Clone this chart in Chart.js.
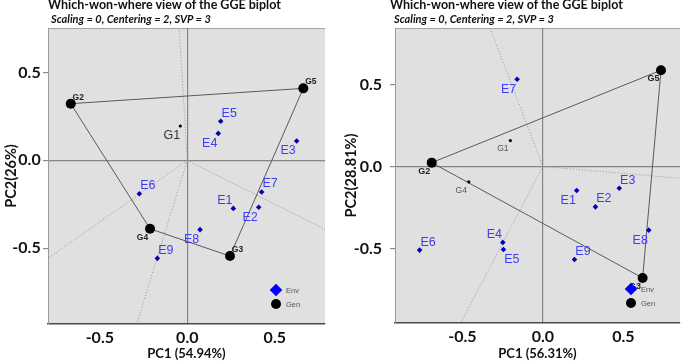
<!DOCTYPE html>
<html><head><meta charset="utf-8">
<script src="https://cdn.jsdelivr.net/npm/chart.js@4.4.1/dist/chart.umd.min.js"></script>
<style>
html,body{margin:0;padding:0;background:#fff;width:685px;height:363px;overflow:hidden;position:relative}
.box{position:absolute;top:0;height:363px}
.t1{position:absolute;top:-3px;font:bold 12.5px Lato,sans-serif;color:#111;white-space:nowrap}
.t2{position:absolute;top:12px;font:italic bold 11px Lato,sans-serif;color:#111;white-space:nowrap}
</style></head><body>
<div class="box" style="left:0;width:340px"><canvas id="c1" width="340" height="363"></canvas></div>
<div class="box" style="left:340px;width:345px"><canvas id="c2" width="345" height="363"></canvas></div>
<div class="t1" style="left:48px">Which-won-where view of the GGE biplot</div>
<div class="t2" style="left:51px">Scaling = 0, Centering = 2, SVP = 3</div>
<div class="t1" style="left:390px">Which-won-where view of the GGE biplot</div>
<div class="t2" style="left:394px">Scaling = 0, Centering = 2, SVP = 3</div>
<script>
// ---------- DATA ----------
const tickValues = [-0.5, 0, 0.5];

// Left biplot
const leftGenNames = ["G1","G2","G3","G4","G5"];
const leftGenPC1   = [-0.040, -0.666, 0.244, -0.213, 0.663];
const leftGenPC2   = [ 0.195,  0.322, -0.544, -0.389, 0.409];
const leftEnvNames = ["E1","E2","E3","E4","E5","E6","E7","E8","E9"];
const leftEnvPC1   = [0.263, 0.408, 0.625, 0.177, 0.191, -0.274, 0.425, 0.073, -0.171];
const leftEnvPC2   = [-0.273, -0.267, 0.110, 0.153, 0.222, -0.190, -0.180, -0.394, -0.557];
const leftHull     = ["G2","G5","G3","G4"];
const leftRayPC1   = [-0.046, 0.787, -0.289, -0.796];
const leftRayPC2   = [ 0.752, -0.392, -0.930, -0.557];
const leftPC1Range = [-0.796, 0.787];
const leftPC2Range = [-0.930, 0.752];
const leftTitles   = ["PC1 (54.94%)", "PC2(26%)"];

// Right biplot
const rightGenNames = ["G1","G2","G3","G4","G5"];
const rightGenPC1   = [-0.202, -0.690, 0.619, -0.460, 0.733];
const rightGenPC2   = [ 0.159,  0.024, -0.680, -0.093, 0.588];
const rightEnvNames = ["E1","E2","E3","E4","E5","E6","E7","E8","E9"];
const rightEnvPC1   = [0.210, 0.326, 0.474, -0.249, -0.245, -0.765, -0.160, 0.657, 0.196];
const rightEnvPC2   = [-0.146, -0.246, -0.132, -0.463, -0.506, -0.510, 0.533, -0.388, -0.567];
const rightHull     = ["G2","G5","G3"];
const rightRayPC1   = [-0.328, 0.851, -0.511];
const rightRayPC2   = [ 0.846, -0.071, -0.955];
const rightPC1Range = [-0.918, 0.851];
const rightPC2Range = [-0.955, 0.846];
const rightTitles   = ["PC1 (56.31%)", "PC2(28.81%)"];

const legendLabels = ["Env", "Gen"];

// ---------- STYLE (label placement: ur/ul/lr/ll) ----------
const leftPlace = {G1:'ll',G2:'ur',G3:'ur',G4:'ll',G5:'ur',
  E1:'ul',E2:'ll',E3:'ll',E4:'ll',E5:'ur',E6:'ur',E7:'ur',E8:'ll',E9:'ur'};
const rightPlace = {G1:'ll',G2:'ll',G3:'ll',G4:'ll',G5:'ll',
  E1:'ll',E2:'ur',E3:'ur',E4:'ul',E5:'lr',E6:'ur',E7:'ll',E8:'ll',E9:'ur'};

const ENV_PT = '#0000b4', ENV_TXT = '#3d3df2', BG = '#e0e0e0';

function makeChart(id, d) {
  const idx = n => d.genNames.indexOf(n);
  const genPts = d.genNames.map((n,i)=>({x:d.genPC1[i], y:d.genPC2[i]}));
  const envPts = d.envNames.map((n,i)=>({x:d.envPC1[i], y:d.envPC2[i]}));
  const hullPts = d.hull.map(n=>({x:d.genPC1[idx(n)], y:d.genPC2[idx(n)]}));
  hullPts.push(hullPts[0]);
  const genR = d.genNames.map(n => d.hull.includes(n) ? 5 : 1.6);

  const datasets = [
    {data: envPts, pointStyle:'rectRot', pointRadius:2.8, backgroundColor:ENV_PT, borderColor:ENV_PT, borderWidth:0, order:1},
    {data: genPts, pointStyle:'circle', pointRadius:genR, backgroundColor:'#000', borderColor:'#000', borderWidth:0, order:2},
    {data: hullPts, showLine:true, pointRadius:0, borderColor:'#5a5a5a', borderWidth:1, order:3},
  ];
  d.rayPC1.forEach((rx,i)=>datasets.push({data:[{x:0,y:0},{x:rx,y:d.rayPC2[i]}], showLine:true, pointRadius:0,
     borderColor:'#959595', borderWidth:1, borderDash:[1,2], order:4}));

  const frame = {
    id:'frame',
    beforeDraw(c){ const a=c.chartArea, x=c.ctx; x.save(); x.fillStyle=BG; x.fillRect(a.left,a.top,a.right-a.left,a.bottom-a.top);
      x.strokeStyle='#a5a5a5'; x.lineWidth=1; x.beginPath(); x.moveTo(a.left,a.top+0.5); x.lineTo(a.right,a.top+0.5); x.stroke(); x.restore(); }
  };
  const labels = {
    id:'ptLabels',
    afterDatasetsDraw(c){
      const x=c.ctx, sx=c.scales.x, sy=c.scales.y;
      const draw = (txt, px, py, place, big, font, color) => {
        const dx = big ? 8.5 : 7.5, up = big ? -8 : -6.5, dn = big ? 10 : 8.5;
        const cx = px + (place[1]==='r' ? dx : -dx);
        const cy = py + (place[0]==='u' ? up : dn);
        x.font = font; x.fillStyle = color; x.textAlign='center'; x.textBaseline='middle';
        x.fillText(txt, cx, cy);
      };
      x.save();
      d.envNames.forEach((n,i)=>draw(n, sx.getPixelForValue(d.envPC1[i]), sy.getPixelForValue(d.envPC2[i]), d.place[n], true, '12.5px "Liberation Sans", Arial, sans-serif', ENV_TXT));
      d.genNames.forEach((n,i)=>{
        const onHull = d.hull.includes(n);
        const st = onHull ? d.hullLabel : d.innerLabel;
        draw(n, sx.getPixelForValue(d.genPC1[i]), sy.getPixelForValue(d.genPC2[i]), d.place[n], st.big, st.font, st.color);
      });
      // legend
      const a = c.chartArea, lx = a.right-49;
      const y1 = a.bottom-34, y2 = a.bottom-20;
      x.fillStyle='#0000ff'; x.beginPath(); x.moveTo(lx-6.3,y1); x.lineTo(lx,y1-6.3); x.lineTo(lx+6.3,y1); x.lineTo(lx,y1+6.3); x.closePath(); x.fill();
      x.fillStyle='#000'; x.beginPath(); x.arc(lx,y2,5,0,Math.PI*2); x.fill();
      x.font='7.5px "Liberation Sans", Arial, sans-serif'; x.fillStyle='#555'; x.textAlign='left'; x.textBaseline='middle';
      x.fillText(legendLabels[0], lx+10, y1+1); x.fillText(legendLabels[1], lx+10, y2+1);
      x.restore();
    }
  };

  const tickFont = {family:'Lato', weight:'bold', size:16};
  return new Chart(document.getElementById(id), {
    type:'scatter',
    data:{datasets},
    plugins:[frame, labels],
    options:{
      responsive:false, animation:false, events:[],
      layout:{padding:{left:0, top:28, right:d.padRight, bottom:0}},
      plugins:{legend:{display:false}, tooltip:{enabled:false}},
      scales:{
        x:{type:'linear', min:d.pc1Range[0], max:d.pc1Range[1],
          afterBuildTicks:s=>{s.ticks=tickValues.map(v=>({value:v}));},
          afterFit:s=>{s.height=363-d.bottom;},
          ticks:{callback:v=>v.toFixed(1), font:tickFont, color:'#111', padding:4, maxRotation:0, autoSkip:false},
          grid:{drawTicks:false, color:c=>c.tick && c.tick.value===0 ? '#858585' : 'rgba(0,0,0,0)', lineWidth:1.2},
          border:{display:true, color:'#4a4a4a', width:1.6},
          title:{display:true, text:d.titles[0], font:{family:'Lato', weight:'bold', size:13}, color:'#111', padding:{top:0,bottom:1.5}}
        },
        y:{type:'linear', min:d.pc2Range[0], max:d.pc2Range[1],
          afterBuildTicks:s=>{s.ticks=tickValues.map(v=>({value:v}));},
          afterFit:s=>{s.width=d.left;},
          ticks:{callback:v=>v.toFixed(1), font:tickFont, color:'#111', padding:d.yPad, autoSkip:false},
          grid:{drawTicks:true, tickLength:5, tickColor:'#8a8a8a', color:c=>c.tick && c.tick.value===0 ? '#858585' : 'rgba(0,0,0,0)', lineWidth:1.2},
          border:{display:true, color:'#9a9a9a', width:1},
          title:{display:true, text:d.titles[1], font:{family:'Lato', weight:'bold', size:14.5}, color:'#111', padding:{top:2.3,bottom:0}}
        }
      }
    }
  });
}

makeChart('c1', {genNames:leftGenNames, genPC1:leftGenPC1, genPC2:leftGenPC2,
  envNames:leftEnvNames, envPC1:leftEnvPC1, envPC2:leftEnvPC2, hull:leftHull,
  rayPC1:leftRayPC1, rayPC2:leftRayPC2, pc1Range:leftPC1Range, pc2Range:leftPC2Range, titles:leftTitles,
  place:leftPlace, left:48, bottom:324, padRight:15, yPad:2.3,
  hullLabel:{big:false, font:'bold 8.5px "Liberation Sans", Arial, sans-serif', color:'#222'},
  innerLabel:{big:true, font:'12.5px "Liberation Sans", Arial, sans-serif', color:'#333'}});

makeChart('c2', {genNames:rightGenNames, genPC1:rightGenPC1, genPC2:rightGenPC2,
  envNames:rightEnvNames, envPC1:rightEnvPC1, envPC2:rightEnvPC2, hull:rightHull,
  rayPC1:rightRayPC1, rayPC2:rightRayPC2, pc1Range:rightPC1Range, pc2Range:rightPC2Range, titles:rightTitles,
  place:rightPlace, left:55, bottom:323, padRight:0, yPad:8,
  hullLabel:{big:false, font:'bold 9px "Liberation Sans", Arial, sans-serif', color:'#222'},
  innerLabel:{big:false, font:'8.5px "Liberation Sans", Arial, sans-serif', color:'#555'}});
</script>
</body></html>
